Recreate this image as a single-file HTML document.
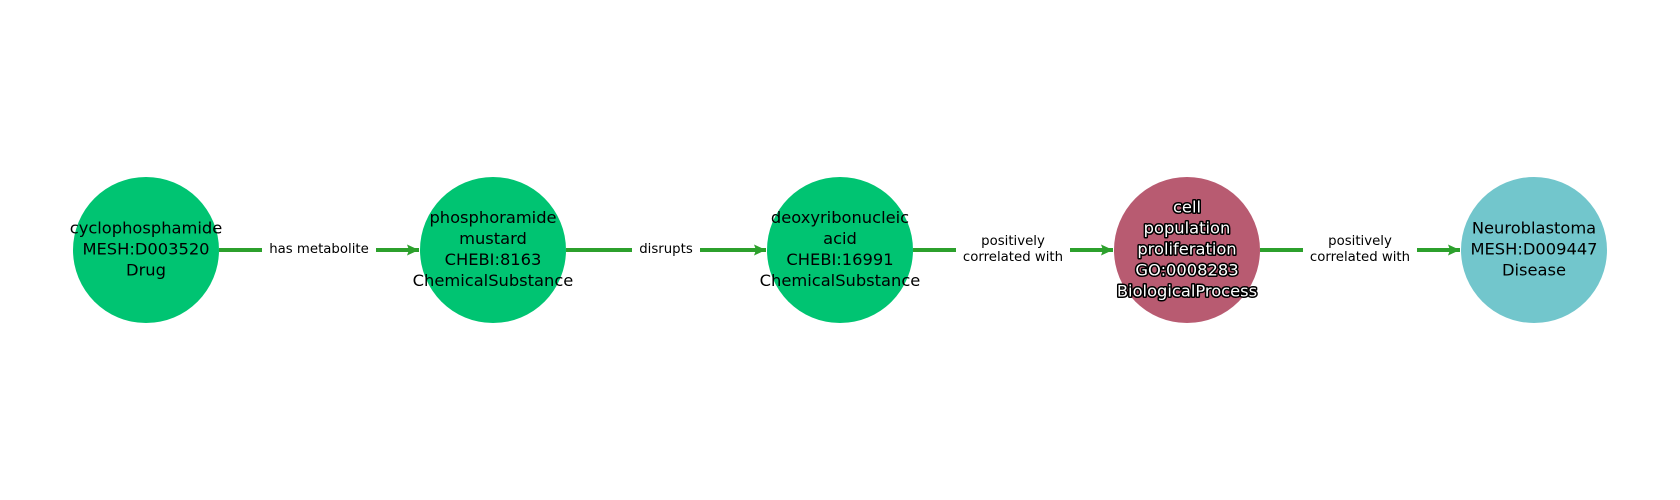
<!DOCTYPE html>
<html><head><style>html,body{margin:0;padding:0;background:#fff;}svg{display:block;}</style></head>
<body>
<svg width="1680" height="500" viewBox="0 0 1680 500" xmlns="http://www.w3.org/2000/svg" font-family="DejaVu Sans, Liberation Sans, sans-serif">
<defs>
<marker id="ah" markerWidth="14" markerHeight="14" refX="12" refY="6" orient="auto" markerUnits="userSpaceOnUse">
<path d="M0,0.5 L12,6 L0,11.5 L2,6 Z" fill="#2ca02c"/>
</marker>
</defs>
<g stroke="#2ca02c" stroke-width="4" fill="none">
<line x1="219" y1="250" x2="419" y2="250" marker-end="url(#ah)"/>
<line x1="566" y1="250" x2="766" y2="250" marker-end="url(#ah)"/>
<line x1="913" y1="250" x2="1113" y2="250" marker-end="url(#ah)"/>
<line x1="1260" y1="250" x2="1460" y2="250" marker-end="url(#ah)"/>
</g>
<g fill="#fff">
<rect x="262" y="240" width="114" height="20"/>
<rect x="632" y="240" width="68" height="20"/>
<rect x="956" y="230" width="114" height="40"/>
<rect x="1303" y="230" width="114" height="40"/>
</g>
<g font-size="13.3" fill="#000" text-anchor="middle" dominant-baseline="central">
<text x="319" y="249.5">has metabolite</text>
<text x="666" y="249.5">disrupts</text>
<text x="1013" y="241.5">positively</text>
<text x="1013" y="257.5">correlated with</text>
<text x="1360" y="241.5">positively</text>
<text x="1360" y="257.5">correlated with</text>
</g>
<circle cx="146" cy="250" r="73" fill="#00c472"/>
<circle cx="493" cy="250" r="73" fill="#00c472"/>
<circle cx="840" cy="250" r="73" fill="#00c472"/>
<circle cx="1187" cy="250" r="73" fill="#b85b71"/>
<circle cx="1534" cy="250" r="73" fill="#72c6cc"/>
<g font-size="16.3" fill="#000" text-anchor="middle" dominant-baseline="central">
<text x="146" y="228">cyclophosphamide</text>
<text x="146" y="249">MESH:D003520</text>
<text x="146" y="270">Drug</text>
<text x="493" y="217.5">phosphoramide</text>
<text x="493" y="238.5">mustard</text>
<text x="493" y="259.5">CHEBI:8163</text>
<text x="493" y="280.5">ChemicalSubstance</text>
<text x="840" y="217.5">deoxyribonucleic</text>
<text x="840" y="238.5">acid</text>
<text x="840" y="259.5">CHEBI:16991</text>
<text x="840" y="280.5">ChemicalSubstance</text>
<text x="1534" y="228">Neuroblastoma</text>
<text x="1534" y="249">MESH:D009447</text>
<text x="1534" y="270">Disease</text>
</g>
<g font-size="16.3" fill="#fff" stroke="#000" stroke-width="3" paint-order="stroke" stroke-linejoin="round" text-anchor="middle" dominant-baseline="central">
<text x="1187" y="207">cell</text>
<text x="1187" y="228">population</text>
<text x="1187" y="249">proliferation</text>
<text x="1187" y="270">GO:0008283</text>
<text x="1187" y="291">BiologicalProcess</text>
</g>
</svg>
</body></html>
